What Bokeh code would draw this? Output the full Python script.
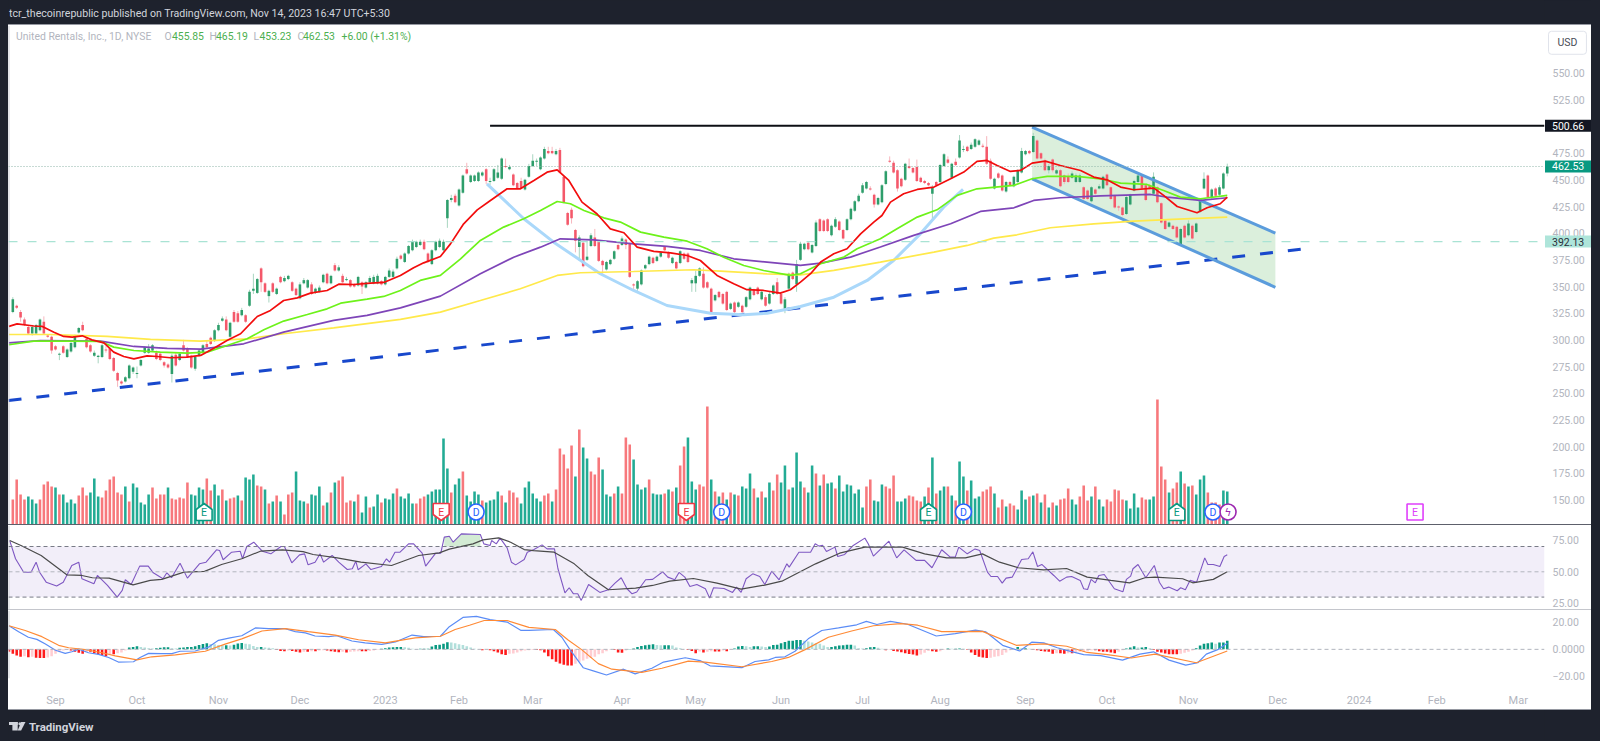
import numpy as np
from bokeh.plotting import figure
from bokeh.layouts import column, row
from bokeh.models import Range1d, Label, Span, BoxAnnotation, FixedTicker, PrintfTickFormatter, Spacer
from bokeh.core.properties import value
from bokeh.embed import file_html
from bokeh.resources import INLINE

# ---------- candles (price, USD), oldest first ----------
candle_dir = ("GRRRRGGGRR" "RRGRGGGGRR" "RGGGRRRRRG" "GGGGGGGRRR" "RGRGRRRGGG" "RRGGGRGRRG" "RGGGRRGRGR" "GGRRGGGRGG" "GRGRGRGRRG" "RGGGGRGGGG" "R"
              "GGGGGRRGGG" "GGGRGGRGGG" "GRGGGGRGRR" "RGGGGGGRRG" "RRRRRGRGGR" "RRGGGRGRRR" "GGGGRGGRRG" "RGRRGGGRRR" "GRRRGRGRGG" "RRGRGGRRGG" "RGG"
              "GRGGRRRGGR" "RGGGGGGRRG" "GGRRRRGRRR" "RRRGRGGRGR" "GGRGGGRRRG" "RRGRGGGGRG" "RRRGRGRRRG" "GGRRGRGGRR" "RRRGGGGRRR" "GRRRGRRGRG" "RGGGRGRGGG")
body_high = [338,332,326,319,312,312,314,319,317,304,303,294,287,294,291,297,304,311,314,301,
 295,288,285,295,291,292,283,269,261,265,276,274,269,281,293,292,295,288,287,279,
 277,285,286,287,295,292,285,284,290,295,296,302,309,314,320,319,316,326,325,328,
 323,345,348,357,367,353,346,353,348,359,358,360,354,348,352,356,356,352,348,349,
 361,362,360,370,368,360,357,356,352,359,354,354,358,359,360,355,359,365,364,376,379,
 381,388,392,392,392,392,381,384,392,393,392,431,433,435,441,454,460,454,454,457,
 457,460,449,460,457,470,463,462,455,447,449,450,463,468,468,471,479,477,477,477,
 478,453,419,422,403,396,391,378,398,396,392,374,373,375,383,389,395,394,390,352,
 355,365,370,378,377,378,382,387,382,377,373,383,381,381,356,360,367,362,354,348,
 342,345,343,345,334,335,335,332,340,349,347,349,345,340,343,351,354,343,338,362,363,371,390,
 390,391,389,410,413,412,413,407,413,411,403,413,423,430,435,445,448,442,436,433,
 445,458,468,466,459,451,465,463,461,462,452,449,447,443,448,464,474,469,465,467,
 487,479,481,483,488,487,482,481,468,451,456,454,448,448,453,459,477,477,477,491,
 487,475,468,463,469,459,459,454,453,456,454,454,443,440,443,441,444,453,455,443,
 435,425,424,434,436,449,454,454,445,445,453,443,428,412,410,407,406,404,407,409,
 407,409,432,451,454,441,442,443,456,462.53]
body_low = [326,330,321,314,306,306,306,309,306,303,290,291,286,288,284,289,293,307,309,293,
 289,285,284,284,290,282,271,262,259,261,264,270,268,276,288,288,290,282,281,276,
 274,268,276,281,290,284,274,273,285,288,293,296,299,309,318,309,303,317,317,323,
 317,332,346,344,354,345,341,345,343,354,355,357,346,342,339,353,349,343,344,345,
 354,353,353,365,365,354,356,350,350,351,350,349,354,353,353,352,352,359,359,367,376,
 373,381,384,387,389,385,373,371,384,387,384,414,431,429,426,438,456,448,449,449,
 454,449,448,449,452,451,462,460,445,442,442,441,453,463,467,460,470,475,475,474,
 457,429,408,414,393,387,369,375,388,388,374,370,366,371,376,385,389,389,359,351,
 348,352,367,371,372,374,378,384,377,372,367,372,376,373,353,353,360,349,349,325,
 337,340,334,328,329,326,331,326,331,338,342,343,338,332,334,343,343,334,329,348,357,352,375,
 385,385,382,388,402,402,402,398,406,403,395,403,413,421,430,438,442,441,427,427,
 429,446,467,457,442,444,450,461,457,449,448,447,445,437,445,448,463,466,452,464,
 471,478,477,479,481,483,481,465,451,442,452,440,439,445,444,448,457,474,475,476,
 470,470,459,459,459,456,444,448,448,452,448,448,432,432,430,437,442,442,445,432,
 424,424,417,418,427,440,448,442,431,442,437,429,410,404,406,404,396,389,396,398,
 395,401,420,442,434,433,435,436,442,455.85]
wick_high = [340,333,328,321,313,314,315,320,322,305,304,295,288,295,292,298,305,312,317,302,
 296,290,286,296,294,293,284,270,262,266,277,275,275,282,294,296,296,290,288,280,
 278,287,288,288,300,293,286,285,291,296,299,303,310,316,322,322,317,328,327,330,
 324,347,362,358,368,354,347,354,349,360,360,361,355,349,354,358,357,354,349,351,
 362,363,361,372,370,362,359,357,353,360,355,355,360,361,362,356,360,367,366,378,380,
 382,389,394,393,394,394,382,385,393,395,394,432,436,437,442,455,466,455,455,458,
 458,461,452,461,464,471,470,464,456,448,452,451,465,474,470,472,481,481,481,479,
 480,454,420,424,404,398,392,393,400,404,393,375,374,376,384,390,397,395,391,353,
 356,366,371,379,378,379,383,388,383,378,374,384,382,382,358,365,368,368,355,349,
 343,346,344,346,335,336,336,333,341,350,348,350,346,342,345,352,358,345,340,363,364,375,392,
 391,392,390,412,414,413,414,408,415,412,404,414,424,431,437,447,449,444,437,434,
 446,459,472,468,460,452,466,470,462,469,453,450,448,445,449,465,475,472,466,470,
 492,482,482,485,489,488,484,491,470,452,457,455,449,449,454,460,480,478,478,494,
 488,476,470,465,470,460,460,455,456,458,456,456,444,441,444,442,446,454,456,444,
 436,426,425,435,437,450,455,455,446,446,457,444,429,413,411,408,407,405,408,412,
 408,410,433,457,455,442,443,445,457,465.19]
wick_low = [325,329,317,313,305,304,305,308,305,302,287,290,281,287,283,288,292,306,308,292,
 288,284,278,283,288,281,270,256,258,260,263,268,264,275,287,287,289,281,280,274,
 273,260,275,280,289,283,273,271,284,287,292,295,298,308,317,308,302,316,316,322,
 316,331,343,343,345,344,335,344,342,353,354,356,345,341,338,352,348,342,343,344,
 353,352,352,364,364,353,355,349,349,350,343,348,353,352,352,351,351,358,358,366,375,
 372,380,383,386,388,384,372,370,383,386,383,405,429,428,425,437,455,447,448,448,
 453,446,445,448,451,450,461,459,444,441,441,440,452,462,463,459,469,474,474,473,
 456,428,407,409,382,374,368,374,387,387,373,362,365,370,375,384,388,385,358,347,
 346,351,366,370,371,373,377,383,376,371,366,371,375,372,345,345,359,348,348,324,
 336,339,333,327,328,325,330,325,330,337,341,342,337,331,333,342,342,333,325,347,356,345,374,
 384,384,381,387,401,401,401,397,405,402,394,402,412,420,429,437,441,440,424,426,
 428,445,466,456,439,443,449,460,456,448,447,446,444,413,444,447,462,465,451,463,
 470,476,476,478,480,482,480,464,450,441,451,439,438,444,443,447,456,473,474,475,
 469,469,458,456,457,455,443,446,447,451,447,447,431,431,429,436,441,441,444,431,
 423,421,416,417,426,439,447,441,430,441,436,428,409,403,405,403,395,388,395,397,
 394,400,419,441,433,432,434,435,441,453.23]

# ---------- volume (tens of thousands of shares) ----------
volume_dir = ("RRRRGGGRRR" "RGRGGGGRRR" "GGGRRRRRRG" "RGGGGGRRRR" "GRRRRRGGGG" "RRGGRGRRGR" "GGGRRGRGRG" "RRRGGGRGGG" "RGRGRRRRGR" "GGRGGRGGGR"
              "GGGGRRRGGG" "GGGRGGRGGG" "GRGGGGRGRR" "RGGGGGGRRG" "RRRRRGRGGR" "RRGGGRGRRR" "GGGGRGGGRG" "RGRRGGGRRR" "GRGRGRGRGG" "GRGRGGRRGG" "RGGGRGGRGR" "GGRGGGGGGG" "RRGGGRRRG"
              "GGRRRRGRGR" "GGRGRGGRGG" "GRRRGRRGRR" "GGGRGRGRGR" "GRRRGGRRRG" "RGGRRRRRGG" "GGRRGGRRRG" "RRGRGRGGGR" "RRRGG")
volume_10k = [25,45,30,25,28,25,21,25,40,43,38,37,30,30,22,25,21,29,37,29,32,46,28,27,34,45,48,32,30,38,23,41,37,22,20,30,37,26,30,30,
 37,26,25,27,26,42,30,29,37,35,46,34,40,29,35,24,26,27,29,24,47,45,50,39,38,35,21,23,29,23,10,30,32,53,24,23,21,30,29,38,19,22,32,42,44,48,22,24,23,30,12,28,17,18,30,22,26,25,31,36,
 28,26,31,21,21,26,28,30,33,35,35,86,56,32,40,46,53,29,23,33,30,24,22,24,25,33,29,22,34,32,27,21,37,43,31,26,23,29,31,23,35,76,70,56,79,48,95,77,66,53,50,67,55,30,28,31,38,31,87,80,65,40,35,37,45,31,30,30,31,35,33,37,59,78,87,43,35,40,38,118,45,33,28,32,25,32,30,29,38,36,51,36,27,33,27,42,34,50,42,59,35,37,72,43,37,32,59,51,39,50,41,42,36,49,33,40,39,31,35,17,38,45,24,23,40,38,36,49,23,
 23,26,29,28,24,23,28,37,67,31,34,38,38,29,24,63,48,34,44,26,28,33,35,38,31,17,25,18,21,19,15,34,25,28,29,31,22,30,17,22,19,25,26,36,25,20,28,39,24,28,38,25,18,25,23,35,34,25,24,16,31,17,27,25,25,28,125,58,45,32,36,42,53,41,38,39,30,45,49,32,22,22,20,34,33]

# ---------- moving averages on the price pane: bar number, price ----------
ema_red_x = [-12,-9.9,-5.6,-3.4,-.4,2.1,4.3,6.9,9.4,12.5,15,17.6,20.2,23.6,26.2,29.6,33.9,37.4,40.8,44.2,47.7,52,55.4,58.8,62.3,65.7,70,73,76.9,81.2,84.6,88.9,92.3,94.9,99.2,101.8,105.2,108.7,112.1,116.4,119.8,123.3,126.7,129.3,132.3,135.7,139.6,143,146.5,149.9,154.2,158.5,162.8,166.2,170.5,174.8,178.2,182.5,186.8,189.4,192,194.6,197.2,200.6,204,207.5,210.9,213,215.2,218.6,222.1,226.4,230.7,234.1,237.5,240.1,242.7,246.1,248.7,251.7,255.1,259,264.2,267.6,271,274.5,277.9,283.1,285.6,289.1,294.2,296.8,300.2,302]
ema_red = [312.6,315,313,312.6,307.2,303.2,302.6,303.8,300,297.2,288.5,284.4,282.2,285,284.4,283.2,283.8,285.4,292.2,299.4,305.7,321.9,327.6,336.9,339.4,343.8,346.3,352.2,351.9,353.2,353.8,360.4,367.5,372.2,378.2,390,408.8,421.9,430.7,441.6,441.6,449.4,457.2,459.4,449.4,429.1,418,404.1,400.4,386.9,382.9,381.6,379.1,374.4,360.4,352.6,347,346.3,343.8,347,354.1,362,372.9,380.7,385.4,399.4,410.4,416.6,429.1,437,441,443.2,451,457.3,467.3,468.2,463.5,457.9,458.8,465.7,467.6,463.5,458.8,452.6,450,443.2,440.7,442.3,435.4,425,419.1,423.8,427.6,433.8]
ema_green_x = [-12,-5.6,3,11.6,15,20.2,27,33.9,39.1,44.2,49.4,53.7,58.8,64.9,70,73.5,80.3,84.6,88.9,94,99.2,104.4,109.5,115.5,120.7,125,129.3,132.7,136.2,141.3,145.6,150.8,156.8,162.8,167.9,172.2,177.4,182.5,189.4,192,197.2,203.2,206.6,212.6,216.9,222.1,227.2,232.4,237.5,247,251.7,255.6,263.3,269.3,274.5,281.3,285.6,289.9,295.1,302]
ema_green = [295.4,298.8,298.8,298.5,293.2,290,288.5,287.6,288.5,294.7,301,309.4,317.6,323.8,329.1,334.4,338.2,340.7,346.3,355.7,360.4,376,393.2,405.7,413.5,421.3,429.7,427.6,421.3,414.4,410.4,401,396.3,392.5,385.4,377.5,369.7,365,360.4,362,371.3,377.6,385.4,394.8,404.1,415.1,421.9,435.4,441.6,444.8,451,453.2,453.2,451,447,445.7,440,433.8,432.3,435.4]
ema_purple_x = [-12,-3.9,11.6,20.2,28.8,37.4,48.5,58.8,71.7,80.3,88.9,99.2,109.5,118.1,125,130.1,138.7,149,157.6,166.2,174.8,183.4,192,197.2,204.9,212.6,221.2,230.7,238.4,247,252.1,259,269.3,282.2,286.5,295.1,302]
ema_purple = [297.2,299.4,298.8,293.8,292,291.3,296.3,307.2,318.2,322.9,330,341,362,377.5,386.9,394.7,393.8,390,387.6,383.8,376,372.9,369.8,372,377.6,387,397.9,408.8,420.4,423.8,430.7,433.2,435,436.3,433.8,430.7,433.2]
ema_yellow_x = [-12,-1.3,13.3,24.5,37.4,49.4,58.8,71.7,88.9,99.2,109.5,119.8,129.3,135.3,149,164.5,171.4,183.4,192,200.6,212.6,226.4,235,241.8,247.8,256.4,267.6,277.9,290.8,302]
ema_yellow = [305,305,303.2,300.4,298.8,301,305.7,311.3,319.2,326,336.9,347.9,360.4,362.9,364.1,365.7,364.4,361.9,361,365.1,372.9,382.3,388.5,395.4,398.5,405.1,408.8,411.3,413.5,415.1]

# ---------- drawings on the price pane ----------
resistance_level = 500.66
resistance_start = 112
last_close = 462.53
support_level = 392.13
trend_x = [-12.1, 323]
trend_y = [243.2, 385.8]
channel_x = [251.7, 314.4]
channel_top = [499.4, 400]
channel_bottom = [451, 349.3]
arc_x = [111.2,120.7,128.4,140.4,149,157.6,168.8,177.4,183.4,192,200.6,209.2,216,222.9,228.9,233.9]
arc_y = [446.3,413.5,391.6,362,346.3,332.2,325,323.5,325,331.3,340,355.7,374.4,399.4,424.4,441]
earn_up_x, earn_down_x, earn_next_x = [38.3,225,289], [99.4,162.6], [350.4]
dividend_x, split_x = [108.4,171.7,234,298.3], [302.2]

# ---------- RSI ----------
rsi_x = [-11.8,-10.3,-8.2,-6.3,-5,-4.1,-2.4,.3,2,4.2,6,6.8,9.9,10.8,13.4,15.9,17.2,18,19.5,21.7,23.9,25.2,27.7,28.7,29.9,32.1,34,37.1,38.8,41.5,42.3,43.2,45.4,47.6,48.2,49.3,51.1,53.3,55.5,58.1,59,60.9,62.9,64.2,65.1,66.9,68.2,69.1,71.3,73,75.2,76.5,77.4,78,80,81.3,84,85.3,86.1,87.5,88.8,91,92.3,94.5,95.4,98,99.3,100.2,101.5,102.5,104.6,109.5,110.4,112,112.4,113.6,114.6,116.4,117.5,118.6,120.8,121.6,123.2,
 125.4,126.7,128.6,129.5,131.3,132.4,133.5,134.6,135.5,137.4,140.3,142.5,144.2,145.8,147.3,148.6,149.8,152.1,153.9,156.5,157.8,159.6,160.7,162.2,163.5,165.3,167.5,168.6,169.6,172.3,174.5,175.5,176.7,178,179.7,181.5,182.8,184.6,186.5,188.5,189.1,191.6,194.6,195.8,196.8,197.7,198.7,200.9,201.6,203.4,205.6,208.6,209.5,210.8,214.8,216.8,218.7,221.8,224,225.9,228.4,230.6,231.9,232.8,235,237,238.2,240.2,241.1,242.8,244,245,246.6,249,250.7,251.9,253.1,254.2,257.3,258.8,260.6,
 261.9,264.1,265,266,266.9,268,268.9,270.3,272.9,275.1,276,277.1,277.7,279,281,283.2,284.5,285.6,286.9,289.1,290,291.2,292.4,294.1,296.2,297,298.4,300.1,301.2,302]
rsi_v = [74.7,60.3,49.7,49.7,57.6,49.7,41.8,38.7,41.8,55,57.6,44.5,40.5,47.1,39.2,30,35.3,43.7,40,54.5,54.5,49.2,44.5,49.2,45.3,56.8,45,56.3,57.6,67.4,66.8,59.5,65.5,66.3,60.3,70,73.4,66.3,64.2,70,70,57.1,63.4,64.2,55.5,57.6,64.2,57.6,62.9,57.6,51.8,52.4,58.4,51.6,56.3,51.8,54.2,60.3,57.6,65.5,65.5,72.1,72.1,64.7,54.5,64.7,64.7,77.4,78.1,73.4,80,79.5,72.1,70.8,74.7,72.1,76.6,68.9,57.6,55.5,59.7,65.5,67.4,
 71.3,68.1,68.1,52.4,33.4,37.4,32.6,32.6,27.4,40,33.7,35.8,41,45.3,36.6,32.6,34,43.7,44,50,45.8,43.7,49.5,45.8,38.4,40,36.6,29.2,37.4,36.8,33.7,37.9,33.7,44.5,48.4,46.3,40,50.5,43.7,56.3,53.7,65.5,65.5,72.1,70.3,71,66,69.5,62.1,63.7,70.8,76.6,72,62.4,74.2,61,67.4,59,59,53.2,67.4,61.6,61.6,69.5,64.2,68.1,66.8,49.7,46.3,46.3,41,45,45.8,59.7,60.3,65.8,54.2,55.8,47.1,42.6,45.8,
 46.3,43.2,36.6,36,44,41.3,47.1,47.9,36.6,34.2,44,46.6,52.4,55.8,45.3,55,41.8,36.6,37.9,35,37.4,35.8,43.2,41.8,61,55.8,55.8,54.2,62.1,63.4]
rsi_ma_x = [-11.8,-8.9,-3.7,2.9,6.8,9.5,13.8,20,24.4,27.4,33.1,38.4,42.8,48,52.8,58.5,63.8,66.4,72.6,78.7,86.6,93.6,98.9,101.5,107.6,110.2,114.2,117.3,120.8,123.2,128.5,133.7,137.2,142.5,149.5,153.9,158.3,164.4,170.5,176.7,182.8,187.2,195.9,202.1,208.6,218.3,224,229.7,234.5,238.9,243.3,248.1,254.7,260.6,265.9,272,276.8,280.8,283.4,290.5,293.1,298.4,302]
rsi_ma = [74.7,70.8,62.9,47.6,47.1,45.3,45,39.7,43.2,44,49.7,50.3,55.8,60.3,66.3,67.4,66,63.7,61,57.6,55,62.9,65,67.9,72.1,75.2,76.8,73.4,67.6,66.8,65.5,56.3,47.1,35.8,37.1,39.2,42.6,44.7,41,36.3,39.5,42.6,56.3,64.7,69.5,69.5,64.2,61,61,64.2,57.6,53.2,51.6,52.6,45.8,43.2,41.3,45.3,45.8,44.5,41.3,44,50]

# ---------- MACD ----------
macd_hist = [0,0,-.9,-1.8,-3.2,-4.6,-5.5,-5.1,-5.8,-5.5,-6.2,-6.4,-6.4,-6,-5.1,-3.2,-1.8,-.9,-.5,-.9,-1.8,-2.5,-3.2,-1.8,-1.8,-2.8,-3.7,-4.1,-5.1,-3.7,-3.7,-2.8,-2.3,-.9,1.4,1.8,2.3,1.8,1.4,.9,.7,.9,1.2,1.6,1.6,.9,.7,1.2,1.4,1.8,1.8,2.3,3.2,3.9,4.6,3.9,3.7,3.2,3,3,2.8,3.5,4.4,4.8,4.1,3.7,2.5,1.8,1.8,1.4,1.2,.9,-.5,-1.2,-1.4,-.9,-1.2,-1.8,-2.3,-1.8,-1.8,-1.4,-1.4,-.9,-.7,-.9,-1.4,-1.8,-2.1,-1.8,-2.3,-1.8,-1.6,-1.4,-1.4,-1.4,-1.2,-.9,-.2,.5,.9,1.4,1.6,1.8,1.8,1.6,1.2,.5,.2,.5,.5,.5,2.1,3.2,3.5,4.1,5.3,5.1,4.6,3.7,3.2,2.3,1.4,.5,.1,-.7,0,-.7,-1.4,-2.3,-3.7,-4.1,-3.2,-3,
 -2.3,-1.4,-.9,-.7,-.5,-.5,-.7,-2.3,-5.1,-7.4,-9.2,-10.4,-11.5,-12,-12,-10.6,-9.2,-8.3,-6.9,-6.4,-5.5,-3.7,-2.8,-1.4,-.2,-.5,-2.3,-2.5,-.9,.2,.7,1.8,2.5,3,3.5,3.7,3.2,3,3,3,2.8,1.4,.9,0,-.5,-1.2,-2.8,-1.6,-2.3,-1.8,-1.4,-1.6,-1.6,-.9,-1.4,-.2,.7,2.1,2.5,2.3,1.8,2.3,2.3,2.1,1.8,2.1,3.2,3.5,4.6,5.5,6.4,6.4,6.9,6.9,6.4,5.8,5.1,4.6,4.1,2.8,1.8,1.8,2.3,2.8,3,3.5,3.5,2.8,.9,.7,.9,1.6,1.8,1.2,.5,-.7,-.2,-1.2,-1.6,-2.1,-2.8,-3.5,-3.9,-4.6,-3.9,-2.5,-1.2,-1.4,-1.8,-1.4,-.2,.7,.5,.5,.7,.5,-.2,-2.3,-4.1,-5.5,-6,-6.4,-6.2,-5.5,-5.1,-4.1,-2.3,-.7,-.2,1.8,.9,.9,.5,
 -.2,-.7,-1.2,-1.6,-1.8,-3.2,-2.8,-2.8,-3.2,-2.8,-2.8,-2.3,-1.8,-1.6,-1.2,-.7,-.7,-1.4,-1.8,-1.8,-2.3,-2.8,-1.8,-.7,.7,1.4,2.3,1.4,1.4,1.8,.9,-.5,-1.8,-2.3,-3,-3.7,-3.7,-3.7,-3.2,-2.5,-1.8,-.9,.9,2.8,4.1,4.6,5.1,4.1,5.1,5.1,6.4]
macd_x = [-12,-9.5,-7,-4.8,-2.6,0,2.5,4.2,6,8.5,11.1,13.7,16.2,20.1,21.8,24,27.4,30,32.1,36,39.4,42,45,48,51.5,54.9,59.2,61.8,64.4,66.9,70.4,72.5,76.4,79.8,84.1,87.6,91.9,94.9,99.2,101.5,105,108.5,112,116.4,120,122,128.3,130.5,132.6,136,138.6,142,146.4,149.4,153.7,156.7,162.3,166.1,168.7,176.9,180.3,183.8,185.5,188,190.6,194,197.5,201.8,206.5,209,211.7,215.2,219.6,227,231.9,237.1,239.8,244.1,248.5,251.6,254.7,258.2,260.6,265,269.4,275,279.5,283,287,291.3,294.4,296.6,299.7,302]
macd_line = [17.5,13.1,9,7.4,3.9,-.7,-3,-1.8,.2,-2.5,-3.7,-6,-9.4,-9.2,-6,-3,-3.2,-3.2,-1.4,-1.2,1.6,6.7,8.5,10.1,15.9,15.4,15.4,13.1,12.2,9.9,9.4,10.1,6.2,4.8,3.7,5.5,10.6,9.4,9.7,16.8,23.7,24.4,22,20.2,14,14,14.7,9,-.2,-13.6,-15.9,-19,-14.7,-18.2,-14,-9.4,-6.2,-8.3,-12.2,-13.6,-9,-7.8,-6,-5.5,-1.4,7.8,14,15.9,18.2,20.7,18.4,20.7,18.6,9.9,11.7,14.3,12.9,3,-1.2,5.3,4.8,1.2,-.7,-3.9,-4.6,-8,-3.5,-1.8,-8,-11.7,-9.9,-3.5,0,4.6]
signal_x = [-12,-7.8,-3.5,.8,3.4,7.7,12,15.4,21,24.8,30.9,38.6,43.7,48,53.2,59.2,65.2,72.1,78.1,85,92.7,99.2,103,106.7,110.5,116.4,122,128.8,132.2,135.6,139.9,143.4,151.1,156.3,163.1,167.4,176.9,184.6,188.9,193.2,199.2,205.2,210.8,217.9,222.2,228.4,238.9,247.6,254.7,260.6,265.9,271.1,277.3,283.4,294,302]
signal_line = [17.5,14,9.4,3,1.2,-.2,-2.5,-4.8,-7.8,-5.5,-4.1,-1.4,3.9,7.8,13.6,15.4,13.1,10.6,7.1,4.8,8.5,9.7,14.7,17.9,21.4,21.4,16.3,14.7,6.7,-.2,-10.6,-14.7,-17,-14,-8.7,-9.4,-12.9,-9,-6,-.2,9,13.6,17.5,19.1,17.9,13.1,13.3,3,4.1,2.3,-2.3,-3.9,-6.4,-3.5,-9.9,-1.2]

# ---------- axes ----------
price_ticks = [550,525,475,450,425,400,375,350,325,300,275,250,225,200,175,150]
rsi_ticks = [75,50,25]
macd_ticks = [20,0,-20]
date_ticks = [0,21,42,63,85,104,123,146,165,187,208,228,250,271,292,315,336,356,377]
date_labels = ["Sep","Oct","Nov","Dec","2023","Feb","Mar","Apr","May","Jun","Jul","Aug","Sep","Oct","Nov","Dec","2024","Feb","Mar"]

# ---------- styling ----------
DARK = "#1e222d"
AXIS_TXT = "#b2b5be"
FONT = "Roboto"
W = 1583
BAR_PX, BAR0_PX = 3.88, 55.0
FRAME_R = 1544
GUTTER = 8 + W - FRAME_R
def bar_at(px):
    return (px - BAR0_PX) / BAR_PX
x_range = Range1d(bar_at(8), bar_at(FRAME_R))

def pane(h, lo, hi, ticks, bottom=0):
    p = figure(width=W, height=h, x_range=x_range, y_range=Range1d(lo, hi), toolbar_location=None,
               output_backend="svg", y_axis_location="right", min_border_left=0, min_border_right=GUTTER,
               min_border_top=0, min_border_bottom=bottom, background_fill_color="white",
               border_fill_color="white", outline_line_color=None, styles={"background-color": "white"})
    p.grid.visible = False
    p.xaxis.visible = False
    ax = p.yaxis[0]
    ax.ticker = FixedTicker(ticks=ticks)
    ax.formatter = PrintfTickFormatter(format="%.2f")
    ax.axis_line_color = None
    ax.major_tick_line_color = None
    ax.minor_tick_line_color = None
    ax.major_tick_out = 0
    ax.major_tick_in = 0
    ax.major_label_standoff = 8
    ax.major_label_text_color = AXIS_TXT
    ax.major_label_text_font = FONT
    ax.major_label_text_font_size = "10.5px"
    p.add_layout(Span(location=bar_at(8.3), dimension="height", line_color="#b2b5be", line_width=1))
    return p

def strip(h):
    p = figure(width=W, height=h, x_range=Range1d(0, W), y_range=Range1d(0, h), toolbar_location=None,
               output_backend="svg", x_axis_type=None, y_axis_type=None, min_border=0,
               background_fill_color=DARK, border_fill_color=DARK, outline_line_color=None)
    p.grid.visible = False
    return p

def rule(h, colour):
    return Spacer(width=W, height=h, styles={"background-color": colour})

# ---------- header ----------
head = strip(24)
head.add_layout(Label(x=0.5, y=11.3, text="tcr_thecoinrepublic published on TradingView.com, Nov 14, 2023 16:47 UTC+5:30",
                      text_color="#d1d4dc", text_font=FONT, text_font_size="10.6px", text_baseline="middle"))

# ---------- price pane ----------
main = pane(499, 126.9, 594.7, price_ticks)
main.extra_y_ranges = {"vol": Range1d(0, 499)}
n = len(body_high)
bars = np.arange(n) + 303 - n
up = np.array([d == "G" for d in candle_dir[:n]])
main.add_layout(Span(location=last_close, dimension="width", line_color="#8fb5a8", line_width=1, line_dash="1 2"))
main.add_layout(Span(location=support_level, dimension="width", line_color="#a9e3d4", line_width=1.2, line_dash="9 10"))
vn = len(volume_10k)
vx = np.arange(vn) + 303 - vn
vcol = ["#22ab94" if volume_dir[i] == "G" else "#f7787c" for i in range(vn)]
main.vbar(x=vx, bottom=0, top=volume_10k, width=0.66, fill_color=vcol, line_color=None, y_range_name="vol")
main.patch(channel_x + channel_x[::-1], channel_top + channel_bottom[::-1], fill_color="#4caf50", fill_alpha=0.2, line_color=None)
wcol = ["#a8d5c0" if u else "#f7b6bd" for u in up]
ccol = ["#2e9e6b" if u else "#f4586a" for u in up]
main.segment(bars, wick_low, bars, wick_high, line_color=wcol, line_width=1)
main.vbar(x=bars, bottom=body_low, top=body_high, width=0.66, fill_color=ccol, line_color=None)
main.line(trend_x, trend_y, line_color="#1848cc", line_width=3, line_dash="13 15")
main.line(arc_x, arc_y, line_color="#aad8fa", line_width=3)
main.line(channel_x, channel_top, line_color="#5b9cdc", line_width=3)
main.line(channel_x, channel_bottom, line_color="#5b9cdc", line_width=3)
main.line(ema_yellow_x, ema_yellow, line_color="#ffe94a", line_width=1.7)
main.line(ema_purple_x, ema_purple, line_color="#7e45b8", line_width=1.7)
main.line(ema_green_x, ema_green, line_color="#6df21a", line_width=1.7)
main.line(ema_red_x, ema_red, line_color="#f20d0d", line_width=1.7)
main.line([resistance_start, bar_at(FRAME_R)], [resistance_level] * 2, line_color="#0d0f14", line_width=2)

# event markers, drawn on the volume scale (its unit is one pixel high)
hw = 8 / BAR_PX
for xs, colour, tip_up in [(earn_up_x, "#089981", True), (earn_down_x, "#f23645", False)]:
    for x in xs:
        if tip_up:
            px, py = [x - hw, x - hw, x, x + hw, x + hw], [4, 15, 21, 15, 4]
        else:
            px, py = [x - hw, x - hw, x, x + hw, x + hw], [21, 10, 4, 10, 21]
        main.patch(px, py, fill_color="white", line_color=colour, line_width=1.6, y_range_name="vol")
    main.text(xs, [12.5] * len(xs), text=["E"] * len(xs), text_color=colour, text_align="center", text_baseline="middle",
              text_font=value(FONT), text_font_size="10.5px", y_range_name="vol")
main.scatter(earn_next_x, [12.5], marker="square", size=16, fill_color="white", line_color="#e040fb", line_width=1.6, y_range_name="vol")
main.text(earn_next_x, [12.5], text=["E"], text_color="#e040fb", text_align="center", text_baseline="middle",
          text_font=value(FONT), text_font_size="10.5px", y_range_name="vol")
main.scatter(dividend_x, [12.5] * 4, marker="circle", size=16, fill_color="white", line_color="#2962ff", line_width=1.6, y_range_name="vol")
main.text(dividend_x, [12.5] * 4, text=["D"] * 4, text_color="#2962ff", text_align="center", text_baseline="middle",
          text_font=value(FONT), text_font_size="10.5px", y_range_name="vol")
main.scatter(split_x, [12.5], marker="circle", size=16, fill_color="white", line_color="#9c27b0", line_width=1.6, y_range_name="vol")
main.text(split_x, [12.5], text=["\u03df"], text_color="#9c27b0", text_align="center", text_baseline="middle",
          text_font=value("DejaVu Sans"), text_font_size="10.5px", y_range_name="vol")

LEG_Y = 584.4
for txt, xp, col in [("United Rentals, Inc., 1D, NYSE", 15.6, AXIS_TXT), ("O", 164, AXIS_TXT), ("455.85", 171.5, "#4caf50"),
                     ("H", 209, AXIS_TXT), ("465.19", 215.5, "#4caf50"), ("L", 253, AXIS_TXT), ("453.23", 259, "#4caf50"),
                     ("C", 297, AXIS_TXT), ("462.53", 302.5, "#4caf50"), ("+6.00 (+1.31%)", 341, "#4caf50")]:
    main.add_layout(Label(x=bar_at(xp), y=LEG_Y, text=txt, text_color=col, text_font=FONT, text_font_size="10.4px", text_baseline="middle"))

# transparent strip laid over the price axis gutter: holds the price tags and the currency button
tags = figure(width=GUTTER, height=499, x_range=Range1d(0, GUTTER), y_range=main.y_range, toolbar_location=None,
              output_backend="svg", x_axis_type=None, y_axis_type=None, min_border=0, background_fill_color=None,
              border_fill_color=None, outline_line_color=None, margin=(0, 0, 0, -GUTTER))
tags.grid.visible = False
for val, txt, bg, fg in [(resistance_level, "500.66", "#131722", "white"), (last_close, "462.53", "#089981", "white"),
                         (support_level, "392.13", "#aee5da", "#2a2e39")]:
    tags.add_layout(Label(x=0.5, y=val, text=txt, text_color=fg, text_font=FONT, text_font_size="10.5px",
                          text_baseline="middle", background_fill_color=bg, padding=dict(x=7, y=2)))
tags.add_layout(Label(x=4, y=578.5, text="USD", text_color="#4a4d57", text_font=FONT, text_font_size="10.5px",
                      text_baseline="middle", background_fill_color="white", border_line_color="#e0e3eb",
                      padding=dict(x=9, y=5), border_radius=3))

# ---------- RSI ----------
rsi = pane(84, 20.2, 86.6, rsi_ticks)
rsi.add_layout(BoxAnnotation(bottom=30, top=70, fill_color="#7e57c2", fill_alpha=0.1, line_color=None, level="underlay"))
for lvl, col in [(70, "#787b86"), (50, "#b2b5be"), (30, "#787b86")]:
    rsi.add_layout(Span(location=lvl, dimension="width", line_color=col, line_width=1, line_dash="4 3"))
rx, rv = np.array(rsi_x), np.array(rsi_v)
mask = (rx >= 100) & (rx <= 110)
rsi.varea(x=rx[mask], y1=[70] * int(mask.sum()), y2=rv[mask], fill_color="#c8e6c9", fill_alpha=0.8)
rsi.line(rsi_x, rsi_v, line_color="#7e57c2", line_width=1.1)
rsi.line(rsi_ma_x, rsi_ma, line_color="#4a4a4a", line_width=1.2)

# ---------- MACD ----------
macd = pane(99, -21.6, 28.8, macd_ticks, bottom=26)
macd.yaxis[0].major_label_overrides = {20: "20.00", 0: "0.0000", -20: "\u221220.00"}
macd.add_layout(Span(location=0, dimension="width", line_color="#b2b5be", line_width=1, line_dash="4 3"))
hn = len(macd_hist)
hx = np.arange(hn) + 303 - hn
hcol = []
for i, h in enumerate(macd_hist):
    prev = macd_hist[i - 1] if i else 0
    if h >= 0:
        hcol.append("#089981" if h >= prev else "#b2dfdb")
    else:
        hcol.append("#ff1a1a" if h <= prev else "#ffcdd2")
macd.vbar(x=hx, bottom=0, top=macd_hist, width=0.66, fill_color=hcol, line_color=None)
macd.line(macd_x, macd_line, line_color="#5b8cf6", line_width=1.2)
macd.line(signal_x, signal_line, line_color="#ff8a35", line_width=1.2)
macd.xaxis.visible = True
xa = macd.xaxis[0]
xa.ticker = FixedTicker(ticks=date_ticks)
xa.major_label_overrides = dict(zip(date_ticks, date_labels))
xa.axis_line_color = None
xa.major_tick_line_color = None
xa.minor_tick_line_color = None
xa.major_tick_out = 0
xa.major_tick_in = 0
xa.major_label_standoff = 15
xa.major_label_text_color = AXIS_TXT
xa.major_label_text_font = FONT
xa.major_label_text_font_size = "11px"

# ---------- footer ----------
foot = strip(31)
foot.quad(left=[0.5, 4], right=[9.5, 9.5], top=[19.5, 19.5], bottom=[16.5, 11], fill_color="#d1d4dc", line_color=None)
foot.circle(x=[11.8], y=[17.8], radius=1.6, fill_color="#d1d4dc", line_color=None)
foot.patch([13, 17.5, 13, 9.5], [19.5, 19.5, 11, 11], fill_color="#d1d4dc", line_color=None)
foot.add_layout(Label(x=21, y=15, text="TradingView", text_color="#d1d4dc", text_font=FONT, text_font_size="11.5px", text_font_style="bold", text_baseline="middle"))

page = column(head, rule(1, "#9598a1"), row(main, tags, spacing=0), rule(1, "#5d606b"), rsi, rule(1, "#c4c6cc"), macd, rule(1, "#9598a1"), foot,
              spacing=0, margin=(0, 9, 0, 8))

html = file_html(page, INLINE).replace("<head>", "<head><style>html,body{background:" + DARK + ";}</style>", 1)
open("out.html", "w").write(html)
